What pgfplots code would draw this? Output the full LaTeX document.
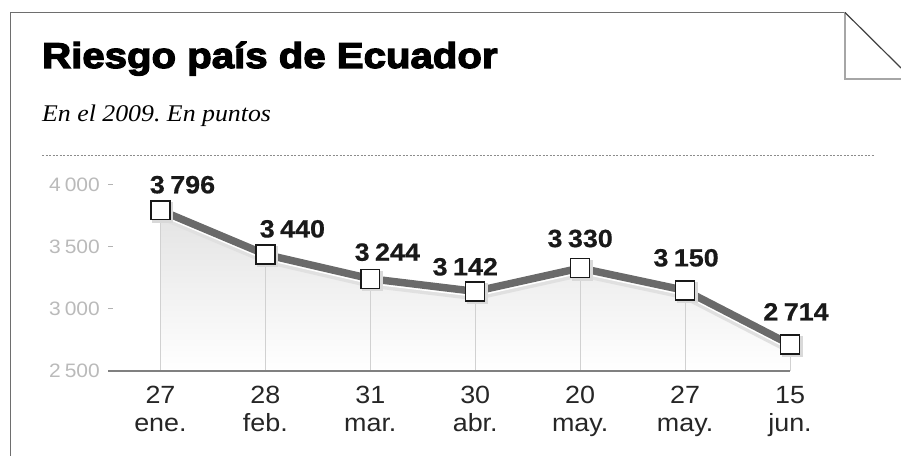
\documentclass[border=0pt]{standalone}
\usepackage{pgfplots}
\pgfplotsset{compat=1.18}
\usepackage{fontspec}
\setmainfont{Liberation Sans}
\newfontfamily\titlefont[FakeStretch=1.12,FakeBold=3.5]{Liberation Sans}
\newfontfamily\subfont[FakeStretch=1.08]{Liberation Serif}
\newfontfamily\labfamily[FakeStretch=1.08,FakeBold=0.6]{Liberation Sans}
\newfontfamily\tickfamily[FakeStretch=1.08]{Liberation Sans}
\definecolor{linegray}{HTML}{6A6A6A}
\definecolor{framegray}{HTML}{6E6E6E}
\newcommand{\labfont}{\labfamily\bfseries\fontsize{25}{25}\selectfont}
\frenchspacing
\begin{document}
\begin{tikzpicture}[x=1bp,y=1bp]
\path[use as bounding box] (0,0) rectangle (901,456);
% frame with folded corner
\draw[framegray, line width=1.5] (10.5,0) -- (10.5,443.5) -- (845,443.5);
\draw[black!35, line width=1.5] (845,443.5) -- (845,377) -- (901,377);
\draw[black!75, line width=1.2] (845,443.5) -- (901,388);
% title and subtitle
\node[anchor=base west, inner sep=0] at (42,388) {\titlefont\bfseries\fontsize{36}{36}\selectfont Riesgo país de Ecuador};
\node[anchor=base west, inner sep=0] at (42,334) {\subfont\itshape\fontsize{24}{24}\selectfont En el 2009. En puntos};
\draw[black!45, dash pattern=on 2bp off 1.5bp, line width=0.8] (42,301) -- (875,301);
\begin{axis}[
  at={(108bp,85bp)}, anchor=south west,
  scale only axis, width=682bp, height=186bp,
  xmin=-0.5, xmax=6, ymin=2500, ymax=4000,
  clip=false, axis on top,
  axis x line=bottom, axis y line=left,
  axis line style={-},
  x axis line style={black!50, line width=1.3},
  y axis line style={draw=none},
  xtick={0,1,2,3,4,5,6},
  xticklabels={{27\\ene.},{28\\feb.},{31\\mar.},{30\\abr.},{20\\may.},{27\\may.},{15\\jun.}},
  xticklabel style={align=center, anchor=base, inner sep=0, yshift=-61bp, text=black!85,
    font=\tickfamily\fontsize{25}{29}\selectfont},
  xtick style={draw=none},
  ytick={2500,3000,3500,4000},
  yticklabels={2\hspace{0.2em}500,3\hspace{0.2em}000,3\hspace{0.2em}500,4\hspace{0.2em}000},
  yticklabel style={inner sep=0, xshift=-8bp, text=black!27, font=\tickfamily\fontsize{19.5}{20}\selectfont},
  ytick style={black!30, line width=1},
  tick align=inside, major tick length=5bp,
]
% gradient area under the line
\addplot[draw=none, top color=black!11, bottom color=white]
  coordinates {(0,2500) (0,3796) (1,3440) (2,3244) (3,3142) (4,3330) (5,3150) (6,2714) (6,2500)} -- cycle;
% vertical drop lines
\addplot[black!18, line width=0.9, unbounded coords=jump]
  coordinates {(0,2500) (0,3796) (0,nan) (1,2500) (1,3440) (1,nan) (2,2500) (2,3244) (2,nan)
               (3,2500) (3,3142) (3,nan) (4,2500) (4,3330) (4,nan) (5,2500) (5,3150) (5,nan)
               (6,2500) (6,2714)};
% shadow, highlight, main line
\addplot[black!12, line width=10, yshift=-4, line join=round]
  coordinates {(0,3796) (1,3440) (2,3244) (3,3142) (4,3330) (5,3150) (6,2714)};
\addplot[white, line width=7, yshift=-2, line join=round]
  coordinates {(0,3796) (1,3440) (2,3244) (3,3142) (4,3330) (5,3150) (6,2714)};
\addplot[linegray, line width=7.5, line join=round]
  coordinates {(0,3796) (1,3440) (2,3244) (3,3142) (4,3330) (5,3150) (6,2714)};
% marker shadows and markers
\addplot[only marks, mark=square*, mark size=10, black!15, xshift=2, yshift=-2]
  coordinates {(0,3796) (1,3440) (2,3244) (3,3142) (4,3330) (5,3150) (6,2714)};
\addplot[only marks, mark=square*, mark size=9.5, mark options={fill=white, draw=black!90, line width=1.4}]
  coordinates {(0,3796) (1,3440) (2,3244) (3,3142) (4,3330) (5,3150) (6,2714)};
% value labels
\tikzset{lab/.style={anchor=base, inner sep=0, text=black!90, font=\labfont}}
\node[lab, xshift=22bp, yshift=17bp] at (axis cs:0,3796) {3\hspace{0.22em}796};
\node[lab, xshift=27bp, yshift=17bp] at (axis cs:1,3440) {3\hspace{0.22em}440};
\node[lab, xshift=17bp, yshift=18bp] at (axis cs:2,3244) {3\hspace{0.22em}244};
\node[lab, xshift=-10bp, yshift=16bp] at (axis cs:3,3142) {3\hspace{0.22em}142};
\node[lab, xshift=0bp, yshift=21bp] at (axis cs:4,3330) {3\hspace{0.22em}330};
\node[lab, xshift=1bp, yshift=24bp] at (axis cs:5,3150) {3\hspace{0.22em}150};
\node[lab, xshift=6bp, yshift=24bp] at (axis cs:6,2714) {2\hspace{0.22em}714};
\end{axis}
\end{tikzpicture}
\end{document}
